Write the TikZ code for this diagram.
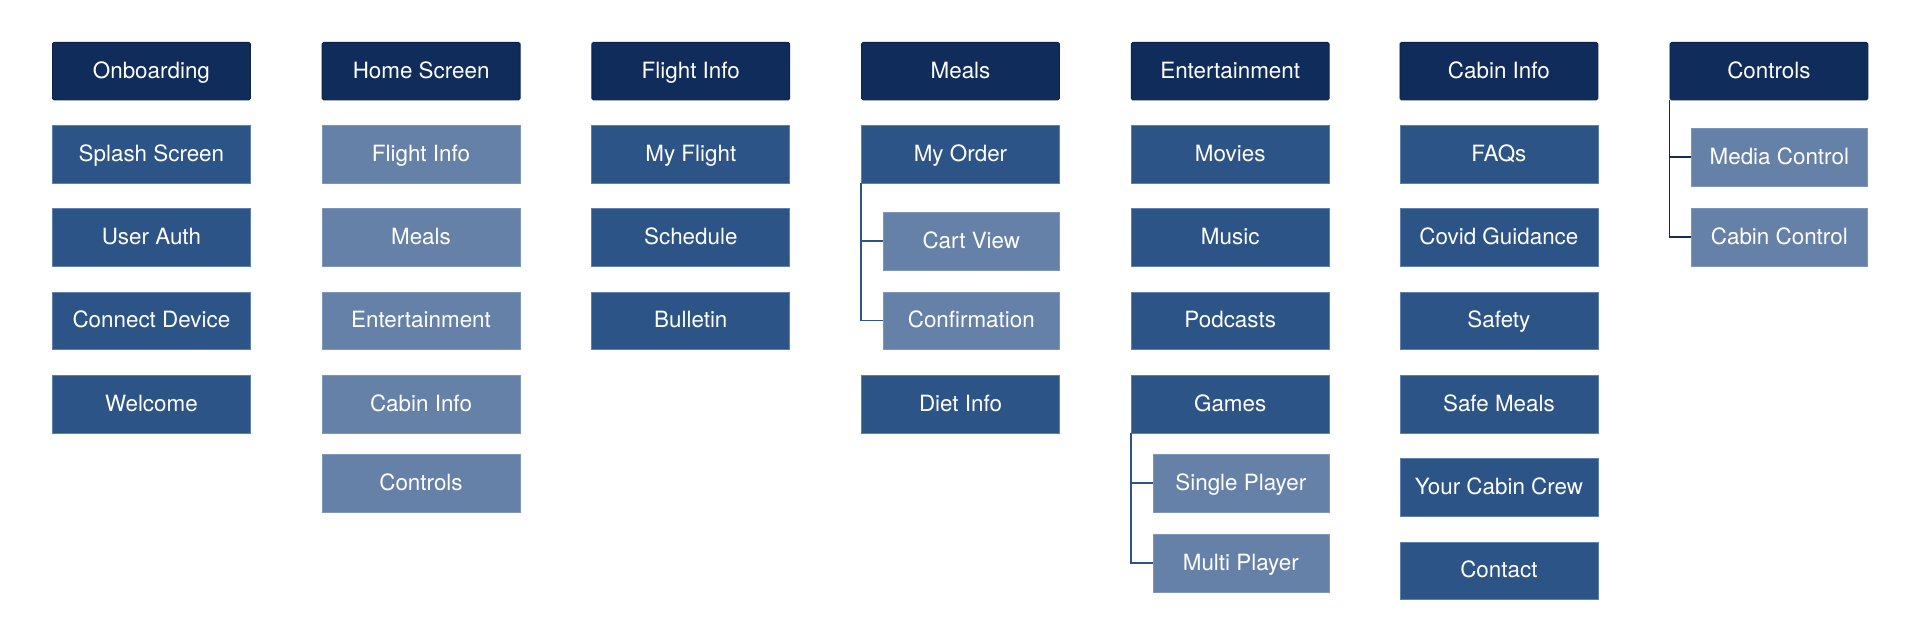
\documentclass[tikz,border=0pt]{standalone}
\usepackage{fontspec}
\setmainfont{TeX Gyre Heros}
\definecolor{hdr}{HTML}{102C5A}
\definecolor{hdrline}{HTML}{0B244D}
\definecolor{mid}{HTML}{2C5487}
\definecolor{midline}{HTML}{5F7FB0}
\definecolor{light}{HTML}{6681A7}
\definecolor{lightline}{HTML}{7C96BC}
\tikzset{
  box/.style={anchor=north west, minimum width=198pt, minimum height=57.5pt, inner sep=0pt,
    text=white, font=\fontsize{22.4}{25}\selectfont, text height=19pt, text depth=4.5pt},
  hdrbox/.style={box, fill=hdr, draw=hdrline, line width=0.8pt, rounded corners=1.5pt},
  midbox/.style={box, fill=mid, draw=midline, line width=0.8pt},
  litebox/.style={box, fill=light, draw=lightline, line width=0.6pt},
  subbox/.style={box, minimum width=176pt, fill=light, draw=lightline, line width=0.6pt},
  conn/.style={draw=mid, line width=1.4pt},
  connd/.style={draw=hdr, line width=1.4pt}
}
\begin{document}
\begin{tikzpicture}[x=1pt,y=-1pt]
\useasboundingbox (0,0) rectangle (1920,642);
% column 1
\node[hdrbox] (onb) at (52,42) {Onboarding};
\node[midbox] (splash) at (52,125) {Splash Screen};
\node[midbox] (auth) at (52,208) {User Auth};
\node[midbox] (conn) at (52,291.5) {Connect Device};
\node[midbox] (welc) at (52,375) {Welcome};
% column 2
\node[hdrbox] (home) at (321.7,42) {Home Screen};
\node[litebox] (hfi) at (321.7,125) {Flight Info};
\node[litebox] (hme) at (321.7,208) {Meals};
\node[litebox] (hen) at (321.7,291.5) {Entertainment};
\node[litebox] (hci) at (321.7,375) {Cabin Info};
\node[litebox] (hco) at (321.7,454) {Controls};
% column 3
\node[hdrbox] (fi) at (591.4,42) {Flight Info};
\node[midbox] (myf) at (591.4,125) {My Flight};
\node[midbox] (sch) at (591.4,208) {Schedule};
\node[midbox] (bul) at (591.4,291.5) {Bulletin};
% column 4
\node[hdrbox] (meals) at (861.1,42) {Meals};
\node[midbox] (order) at (861.1,125) {My Order};
\node[subbox] (cart) at (883,212) {Cart View};
\node[subbox] (confirm) at (883,291.5) {Confirmation};
\node[midbox] (diet) at (861.1,375) {Diet Info};
\draw[conn] (order.south west) |- (cart.west);
\draw[conn] (order.south west) |- (confirm.west);
% column 5
\node[hdrbox] (ent) at (1130.8,42) {Entertainment};
\node[midbox] (movies) at (1130.8,125) {Movies};
\node[midbox] (music) at (1130.8,208) {Music};
\node[midbox] (pod) at (1130.8,291.5) {Podcasts};
\node[midbox] (games) at (1130.8,375) {Games};
\node[subbox] (single) at (1152.5,454) {Single Player};
\node[subbox] (multi) at (1152.5,534) {Multi Player};
\draw[conn] (games.south west) |- (single.west);
\draw[conn] (games.south west) |- (multi.west);
% column 6
\node[hdrbox] (cab) at (1399.5,42) {Cabin Info};
\node[midbox] (faq) at (1399.5,125) {FAQs};
\node[midbox] (covid) at (1399.5,208) {Covid Guidance};
\node[midbox] (safety) at (1399.5,291.5) {Safety};
\node[midbox] (safem) at (1399.5,375) {Safe Meals};
\node[midbox] (crew) at (1399.5,458) {Your Cabin Crew};
\node[midbox] (contact) at (1399.5,541.5) {Contact};
% column 7
\node[hdrbox] (ctrl) at (1669.5,42) {Controls};
\node[subbox] (media) at (1691,128) {Media Control};
\node[subbox] (cabc) at (1691,208) {Cabin Control};
\draw[connd] (ctrl.south west) |- (media.west);
\draw[connd] (ctrl.south west) |- (cabc.west);
\end{tikzpicture}
\end{document}
